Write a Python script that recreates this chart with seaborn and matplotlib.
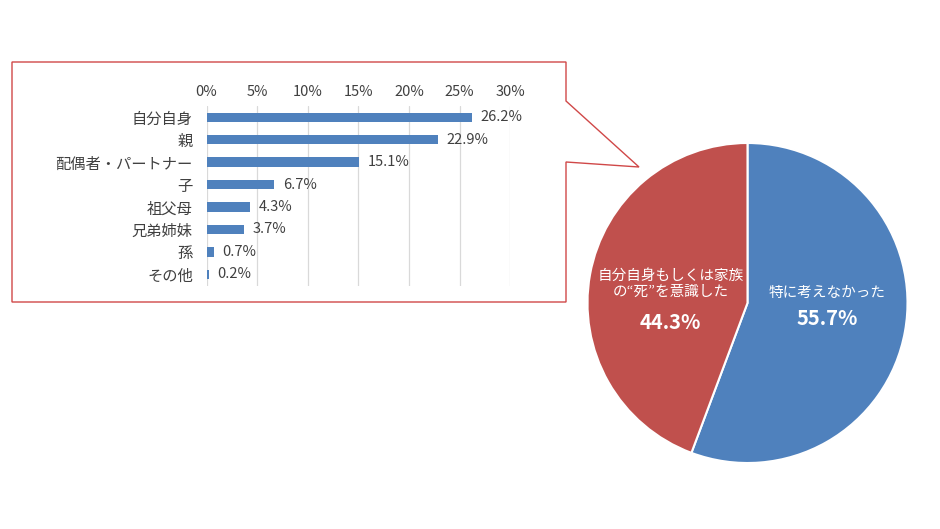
import numpy as np
import matplotlib
matplotlib.use("Agg")
import matplotlib.pyplot as plt
from matplotlib.patches import Polygon
import seaborn as sns

# data
categories = ["自分自身", "親", "配偶者・パートナー", "子", "祖父母", "兄弟姉妹", "孫", "その他"]
shares = [26.2, 22.9, 15.1, 6.7, 4.3, 3.7, 0.7, 0.2]
x_ticks = [0, 5, 10, 15, 20, 25, 30]

pie_labels = ["特に考えなかった", "自分自身もしくは家族\nの“死”を意識した"]
pie_values = [55.7, 44.3]

sns.set_theme(style="white")
plt.rcParams["font.family"] = ["Noto Sans CJK JP", "DejaVu Sans"]

W, H = 940, 529
fig = plt.figure(figsize=(W / 100, H / 100), dpi=100)


def px_box(left, top, right, bottom):
    return [left / W, 1 - bottom / H, (right - left) / W, (bottom - top) / H]


blue = "#4f81bd"
red = "#c0504d"
grey = "#404040"

# callout outline
pts = [(12, 62), (566, 62), (566, 101), (639, 167), (566, 162), (566, 302), (12, 302)]
fig.add_artist(Polygon([(x / W, 1 - y / H) for x, y in pts], closed=True, fill=False,
                       edgecolor="#d04848", linewidth=1.0, transform=fig.transFigure))

# bar chart
ax1 = fig.add_axes(px_box(206.6, 106, 510.3, 285.5))
sns.barplot(x=shares, y=categories, orient="h", color=blue, width=0.42,
            saturation=1, linewidth=0, ax=ax1, zorder=3)
ax1.set_xlim(0, 30)
ax1.set_xticks(x_ticks)
ax1.set_xticklabels([f"{t}%" for t in x_ticks])
ax1.xaxis.tick_top()
ax1.tick_params(axis="x", length=0, labelsize=10.5, labelcolor=grey, pad=5)
ax1.tick_params(axis="y", length=0, labelsize=11, labelcolor=grey, pad=10)
ax1.grid(axis="x", color="#d9d9d9", linewidth=0.9, zorder=0)
for s in ax1.spines.values():
    s.set_visible(False)
ax1.set_xlabel("")
ax1.set_ylabel("")
for cont in ax1.containers:
    ax1.bar_label(cont, labels=[f"{v:.1f}%" for v in shares], padding=6,
                  fontsize=10.5, color=grey)

# pie chart
ax2 = fig.add_axes(px_box(587.5, 143, 907.5, 463))
ax2.pie(pie_values, colors=[blue, red], startangle=90, counterclock=False,
        wedgeprops=dict(edgecolor="white", linewidth=1.5))
ax2.set_xlim(-1, 1)
ax2.set_ylim(-1, 1)
ax2.set_aspect("auto")
ax2.axis("off")

ax2.text(0.50, 0.06, pie_labels[0], ha="center", va="center", color="white", fontsize=10.5)
ax2.text(0.50, -0.095, f"{pie_values[0]}%", ha="center", va="center", color="white",
         fontsize=14.5, fontweight="bold")
ax2.text(-0.48, 0.12, pie_labels[1], ha="center", va="center", color="white",
         fontsize=10.5, linespacing=1.15)
ax2.text(-0.48, -0.12, f"{pie_values[1]}%", ha="center", va="center", color="white",
         fontsize=14.5, fontweight="bold")

fig.savefig("out.png", dpi=100)
